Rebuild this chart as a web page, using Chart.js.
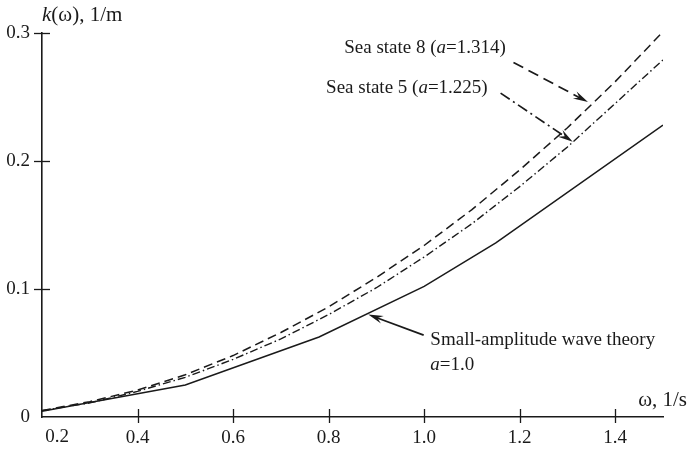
<!DOCTYPE html>
<html>
<head>
<meta charset="utf-8">
<script src="https://cdn.jsdelivr.net/npm/chart.js"></script>
<style>
  html, body { margin: 0; padding: 0; background: #fff; }
</style>
</head>
<body>
<canvas id="chart" width="687" height="449"></canvas>
<script>
// wave number k(omega)
const omega = [0.2, 0.3, 0.4, 0.5, 0.6, 0.7, 0.8, 0.9, 1.0, 1.1, 1.2, 1.3, 1.4, 1.5];
const seaState8 = [0.005, 0.012, 0.021, 0.033, 0.048, 0.066, 0.086, 0.109, 0.134, 0.162, 0.193, 0.226, 0.262, 0.301];
const seaState5 = [0.005, 0.011, 0.020, 0.031, 0.045, 0.061, 0.080, 0.101, 0.125, 0.151, 0.180, 0.211, 0.245, 0.279];
const smallOmega = [0.2, 0.5, 0.78, 1.0, 1.15, 1.5];
const smallAmp = [0.0045, 0.025, 0.0625, 0.102, 0.136, 0.228];

const xTicks = [0.2, 0.4, 0.6, 0.8, 1.0, 1.2, 1.4];
const yTicks = [0, 0.1, 0.2, 0.3];

const INK = '#1a1a1a';
const SERIF = '"Liberation Serif", "DejaVu Serif", serif';

// annotation anchors, in data units (omega, k)
const notes = [
  { parts: [['Sea state 8 (', false], ['a', true], ['=1.314)', false]], at: [1.171, 0.288], align: 'right',
    tail: [1.187, 0.277], tip: [1.343, 0.246], dash: [11, 6] },
  { parts: [['Sea state 5 (', false], ['a', true], ['=1.225)', false]], at: [1.133, 0.257], align: 'right',
    tail: [1.160, 0.253], tip: [1.311, 0.215], dash: [11, 4, 2, 4] },
  { parts: [['Small-amplitude wave theory', false]], at: [1.013, 0.060], align: 'left',
    tail: [0.999, 0.064], tip: [0.883, 0.080], dash: [] },
  { parts: [['a', true], ['=1.0', false]], at: [1.013, 0.041], align: 'left' }
];

function pts(xs, ys) {
  return xs.map((x, i) => ({ x: x, y: ys[i] }));
}

function drawRich(ctx, parts, x, y, align, size) {
  const fontFor = it => (it ? 'italic ' : '') + size + 'px ' + SERIF;
  let total = 0;
  parts.forEach(p => { ctx.font = fontFor(p[1]); total += ctx.measureText(p[0]).width; });
  let cx = align === 'right' ? x - total : x;
  ctx.textAlign = 'left';
  ctx.textBaseline = 'middle';
  parts.forEach(p => {
    ctx.font = fontFor(p[1]);
    ctx.fillText(p[0], cx, y);
    cx += ctx.measureText(p[0]).width;
  });
}

function drawArrow(ctx, x0, y0, x1, y1, dash) {
  const ang = Math.atan2(y1 - y0, x1 - x0);
  const len = 15, half = 4;
  ctx.save();
  ctx.strokeStyle = INK;
  ctx.fillStyle = INK;
  ctx.lineWidth = 1.7;
  ctx.setLineDash(dash);
  ctx.beginPath();
  ctx.moveTo(x0, y0);
  ctx.lineTo(x1 - Math.cos(ang) * len * 0.6, y1 - Math.sin(ang) * len * 0.6);
  ctx.stroke();
  ctx.setLineDash([]);
  ctx.beginPath();
  ctx.moveTo(x1, y1);
  ctx.lineTo(x1 - Math.cos(ang) * len - Math.sin(ang) * half, y1 - Math.sin(ang) * len + Math.cos(ang) * half);
  ctx.lineTo(x1 - Math.cos(ang) * len * 0.65, y1 - Math.sin(ang) * len * 0.65);
  ctx.lineTo(x1 - Math.cos(ang) * len + Math.sin(ang) * half, y1 - Math.sin(ang) * len - Math.cos(ang) * half);
  ctx.closePath();
  ctx.fill();
  ctx.restore();
}

const decorations = {
  id: 'decorations',
  afterDraw(chart) {
    const ctx = chart.ctx;
    const xs = chart.scales.x, ys = chart.scales.y;
    const area = chart.chartArea;
    ctx.save();
    ctx.strokeStyle = INK;
    ctx.fillStyle = INK;
    ctx.lineWidth = 1.3;

    // tick marks crossing the axes
    xTicks.slice(1).forEach(v => {
      const px = Math.round(xs.getPixelForValue(v)) + 0.5;
      ctx.beginPath();
      ctx.moveTo(px, area.bottom - 8);
      ctx.lineTo(px, area.bottom + 6);
      ctx.stroke();
    });
    yTicks.slice(1).forEach(v => {
      const py = Math.round(ys.getPixelForValue(v)) + 0.5;
      ctx.beginPath();
      ctx.moveTo(area.left - 8, py);
      ctx.lineTo(area.left + 8, py);
      ctx.stroke();
    });

    // first x label sits to the right of the origin
    ctx.font = '19px ' + SERIF;
    ctx.textAlign = 'center';
    ctx.textBaseline = 'middle';
    ctx.fillText('0.2', xs.getPixelForValue(0.2) + 15, area.bottom + 20);

    // axis titles
    drawRich(ctx, [['k', true], ['(ω), 1/m', false]], area.left, 15, 'left', 21);
    drawRich(ctx, [['ω, 1/s', false]], chart.width, area.bottom - 17, 'right', 21);

    // annotations
    notes.forEach(n => {
      drawRich(ctx, n.parts, xs.getPixelForValue(n.at[0]), ys.getPixelForValue(n.at[1]), n.align, 19);
      if (n.tip) {
        drawArrow(ctx,
          xs.getPixelForValue(n.tail[0]), ys.getPixelForValue(n.tail[1]),
          xs.getPixelForValue(n.tip[0]), ys.getPixelForValue(n.tip[1]), n.dash);
      }
    });
    ctx.restore();
  }
};

new Chart(document.getElementById('chart'), {
  type: 'line',
  data: {
    datasets: [
      { label: 'Sea state 8', data: pts(omega, seaState8), borderColor: INK, borderWidth: 1.5, borderDash: [9, 5] },
      { label: 'Sea state 5', data: pts(omega, seaState5), borderColor: INK, borderWidth: 1.4, borderDash: [8, 3, 1.5, 3] },
      { label: 'Small-amplitude', data: pts(smallOmega, smallAmp), borderColor: INK, borderWidth: 1.5 }
    ]
  },
  options: {
    responsive: false,
    animation: false,
    devicePixelRatio: 1,
    layout: { padding: { top: 33, right: 24, left: 0, bottom: 0 } },
    elements: { point: { radius: 0 }, line: { tension: 0, borderCapStyle: 'butt' } },
    plugins: { legend: { display: false }, tooltip: { enabled: false } },
    scales: {
      x: {
        type: 'linear',
        min: 0.2,
        max: 1.5,
        afterBuildTicks: s => { s.ticks = xTicks.map(v => ({ value: v })); },
        afterFit: s => { s.height = 32; },
        grid: { display: false, drawTicks: false },
        border: { display: true, color: INK, width: 1.6 },
        ticks: {
          autoSkip: false,
          maxRotation: 0,
          padding: 10,
          color: INK,
          font: { family: SERIF, size: 19 },
          callback: v => (v === 0.2 ? '' : v.toFixed(1))
        }
      },
      y: {
        type: 'linear',
        min: 0,
        max: 0.3,
        afterBuildTicks: s => { s.ticks = yTicks.map(v => ({ value: v })); },
        afterFit: s => { s.width = 42; },
        grid: { display: false, drawTicks: false },
        border: { display: true, color: INK, width: 1.6 },
        ticks: {
          padding: 12,
          color: INK,
          font: { family: SERIF, size: 19 },
          callback: v => (v === 0 ? '0' : v.toFixed(1))
        }
      }
    }
  },
  plugins: [decorations]
});
</script>
</body>
</html>
